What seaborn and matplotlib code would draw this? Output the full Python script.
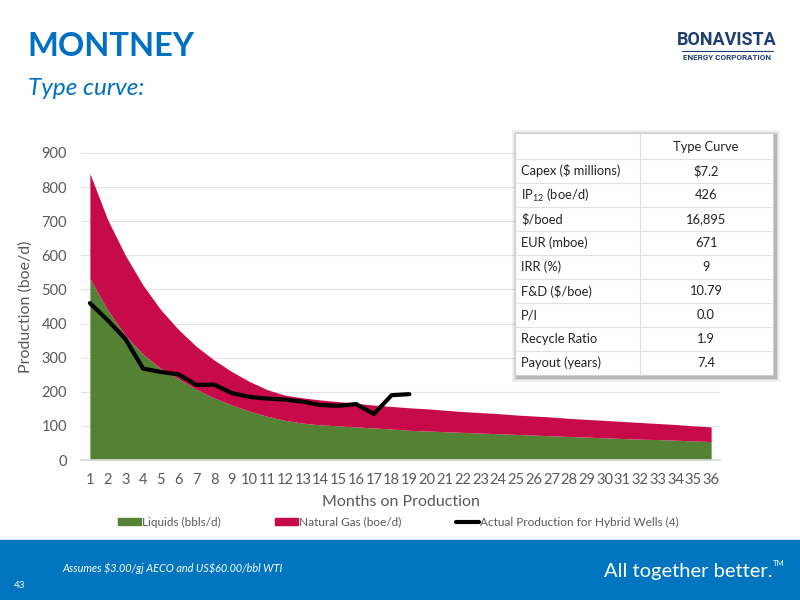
import numpy as np
import pandas as pd
import matplotlib
matplotlib.use("Agg")
import matplotlib.pyplot as plt
import seaborn as sns
from matplotlib.patches import Patch, Rectangle
from matplotlib.lines import Line2D

# data
months = list(range(1, 37))
liquids = [532, 440, 365, 310, 268, 238, 207, 182, 161, 143, 128, 116, 108, 103, 100, 97, 94, 91,
           87, 85, 83, 81, 79, 77, 75, 73, 71, 69, 67, 65, 63, 61, 60, 58, 56, 54]
gas = [308, 265, 235, 202, 172, 144, 126, 111, 98, 87, 78, 74, 74, 73, 71, 69, 67, 66,
       66, 65, 63, 61, 60, 59, 57, 56, 55, 53, 52, 51, 50, 49, 47, 46, 44, 43]
actual_months = list(range(1, 20))
actual = [460, 410, 355, 268, 258, 251, 220, 221, 196, 185, 180, 177, 171, 161, 159, 164, 135, 190, 193]

table_rows = ["Capex (\\$ millions)", "IP$_{12}$ (boe/d)", "\\$/boed", "EUR (mboe)", "IRR (%)",
              "F&D (\\$/boe)", "P/I", "Recycle Ratio", "Payout (years)"]
table_vals = ["$7.2", "426", "16,895", "671", "9", "10.79", "0.0", "1.9", "7.4"]

df = pd.DataFrame({"month": months, "liquids": liquids, "gas": gas})
df["total"] = df["liquids"] + df["gas"]
act = pd.DataFrame({"month": actual_months, "actual": actual})

green = "#548235"
red = "#C70A49"
blue = "#0070C0"
grey = "#595959"
navy = "#1F3F73"

sns.set_theme(style="white")
plt.rcParams["font.family"] = ["Lato", "DejaVu Sans"]
plt.rcParams["mathtext.default"] = "regular"

fig = plt.figure(figsize=(8, 6), dpi=100)

def fx(x):
    return x / 800

def fy(y):
    return 1 - y / 600

ax = fig.add_axes([fx(81), fy(460), fx(720) - fx(81), fy(153) - fy(460)])
ax.fill_between(df["month"], 0, df["liquids"], color=green, lw=0)
ax.fill_between(df["month"], df["liquids"], df["total"], color=red, lw=0)
sns.lineplot(data=act, x="month", y="actual", color="black", lw=3, ax=ax,
             solid_joinstyle="round", solid_capstyle="round")

ax.set_xlim(0.5, 36.5)
ax.set_ylim(0, 900)
ax.set_xticks(months)
ax.set_yticks(range(0, 901, 100))
ax.tick_params(axis="both", colors=grey, labelsize=10.5, length=0)
ax.tick_params(axis="y", pad=10)
ax.tick_params(axis="x", pad=9)
ax.yaxis.grid(True, color="#E3E3E3", lw=0.8)
ax.set_axisbelow(True)
for s in ["top", "right", "left"]:
    ax.spines[s].set_visible(False)
ax.spines["bottom"].set_color("#D9D9D9")
ax.set_xlabel("Months on Production", color=grey, fontsize=11.5, labelpad=6)
ax.set_ylabel("Production (boe/d)", color=grey, fontsize=11.5, labelpad=6)

# legend
handles = [Patch(color=green), Patch(color=red), Line2D([], [], color="black", lw=3)]
labels = ["Liquids (bbls/d)", "Natural Gas (boe/d)", "Actual Production for Hybrid Wells (4)"]
fig.legend(handles, labels, loc="center", bbox_to_anchor=(fx(398), fy(522)), ncol=3,
           frameon=False, fontsize=8.5, handlelength=1.95, handleheight=0.5, handletextpad=0.1,
           columnspacing=4.6, labelcolor=grey)

# table with shadow
tl, tr, tt, tb = 515, 773, 133, 375
for k, a in [(5, 0.06), (3, 0.10), (1.5, 0.15)]:
    fig.patches.append(Rectangle((fx(tl - k + 2), fy(tb + k + 2)), fx(tr - tl + 2 * k), fy(tt) - fy(tb + 2 * k),
                                 transform=fig.transFigure, color="black", alpha=a, lw=0, zorder=5))
fig.patches.append(Rectangle((fx(tl), fy(tb)), fx(tr - tl), fy(tt) - fy(tb),
                             transform=fig.transFigure, facecolor="white", edgecolor="#D0D0D0",
                             lw=0.8, zorder=6))
fig.lines.append(Line2D([fx(640), fx(640)], [fy(tt), fy(tb)], transform=fig.transFigure,
                        color="#E0E0E0", lw=0.8, zorder=7))
fig.text(fx(706), fy(147), "Type Curve", ha="center", va="center", fontsize=9.3, color="#222222", zorder=8)
for i, (r, v) in enumerate(zip(table_rows, table_vals)):
    yc = 171 + i * 24
    fig.lines.append(Line2D([fx(tl), fx(tr)], [fy(yc - 12), fy(yc - 12)], transform=fig.transFigure,
                            color="#E0E0E0", lw=0.8, zorder=7))
    fig.text(fx(521), fy(yc), r, ha="left", va="center", fontsize=9.3, color="#222222", zorder=8)
    fig.text(fx(706), fy(yc), v, ha="center", va="center", fontsize=9.3, color="#222222", zorder=8,
             parse_math=False)

# titles
fig.text(fx(27), fy(47), "MONTNEY", fontsize=23.5, fontweight="bold", color=blue, va="center")
fig.text(fx(28), fy(88), "Type curve:", fontsize=17.5, style="italic", color=blue, va="center")

# logo
fig.text(fx(727), fy(40), "BONAVISTA", fontsize=13, fontweight="bold", color=navy,
         ha="center", va="center", family=["Roboto", "DejaVu Sans"])
fig.lines.append(Line2D([fx(682), fx(773)], [fy(51), fy(51)], transform=fig.transFigure,
                        color=navy, lw=0.8))
fig.text(fx(727), fy(58), "ENERGY CORPORATION", fontsize=5.8, fontweight="bold", color=navy,
         ha="center", va="center", family=["Roboto", "DejaVu Sans"])

# footer band
fig.patches.append(Rectangle((0, 0), 1, fy(540), transform=fig.transFigure, color="#0075BF", zorder=1))
fig.text(fx(62), fy(568), "Assumes $3.00/gj AECO and US$60.00/bbl WTI", fontsize=7.8,
         style="italic", color="white", va="center", zorder=2, parse_math=False)
fig.text(fx(14), fy(585), "43", fontsize=7, color="white", va="center", zorder=2)
fig.text(fx(772), fy(571), "All together better.", fontsize=14.5, color="white",
         ha="right", va="center", zorder=2)
fig.text(fx(773), fy(564), "TM", fontsize=5.5, color="white", ha="left", va="center", zorder=2)

fig.savefig("out.png", dpi=100)
